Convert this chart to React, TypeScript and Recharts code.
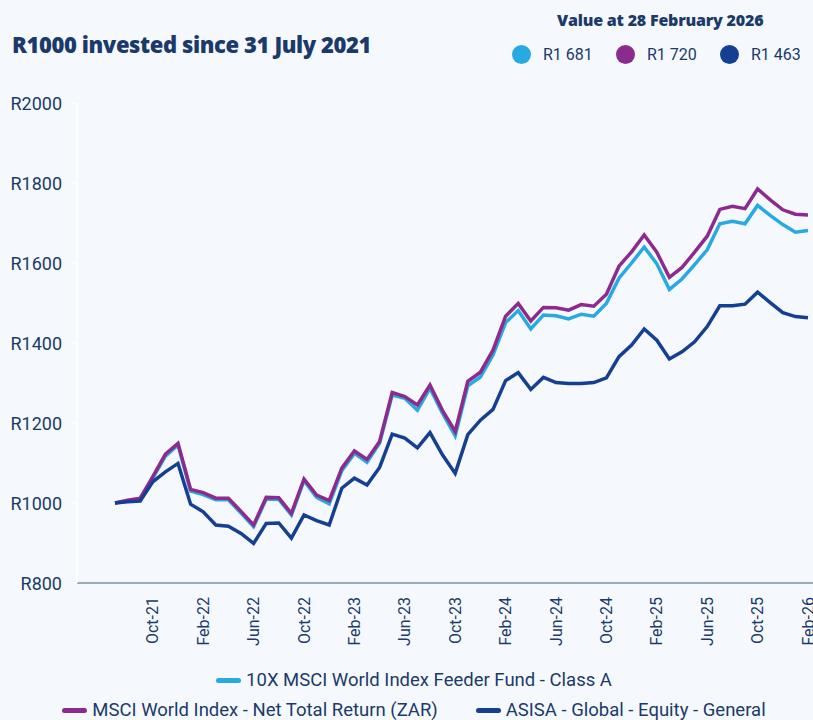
import React from 'react';
import { LineChart, Line, XAxis, YAxis } from 'recharts';

const months = [
  'Jul-21','Aug-21','Sep-21','Oct-21','Nov-21','Dec-21',
  'Jan-22','Feb-22','Mar-22','Apr-22','May-22','Jun-22','Jul-22','Aug-22','Sep-22','Oct-22','Nov-22','Dec-22',
  'Jan-23','Feb-23','Mar-23','Apr-23','May-23','Jun-23','Jul-23','Aug-23','Sep-23','Oct-23','Nov-23','Dec-23',
  'Jan-24','Feb-24','Mar-24','Apr-24','May-24','Jun-24','Jul-24','Aug-24','Sep-24','Oct-24','Nov-24','Dec-24',
  'Jan-25','Feb-25','Mar-25','Apr-25','May-25','Jun-25','Jul-25','Aug-25','Sep-25','Oct-25','Nov-25','Dec-25',
  'Jan-26','Feb-26',
];

const fundValues = [
  1000, 1005, 1009, 1062, 1117, 1145, 1030, 1021, 1008, 1008, 975, 941,
  1010, 1009, 970, 1056, 1014, 998, 1081, 1124, 1102, 1150, 1270, 1262,
  1232, 1287, 1224, 1168, 1293, 1315, 1370, 1451, 1481, 1435, 1470, 1468,
  1460, 1472, 1467, 1499, 1562, 1600, 1640, 1598, 1534, 1560, 1596, 1633,
  1698, 1704, 1698, 1744, 1719, 1696, 1677, 1681,
];

const indexValues = [
  1000, 1007, 1012, 1066, 1122, 1149, 1034, 1026, 1012, 1012, 979, 945,
  1014, 1013, 974, 1060, 1020, 1006, 1087, 1130, 1109, 1154, 1276, 1266,
  1245, 1295, 1231, 1179, 1304, 1327, 1382, 1467, 1499, 1455, 1489, 1488,
  1482, 1496, 1492, 1522, 1592, 1628, 1670, 1627, 1564, 1589, 1627, 1667,
  1734, 1742, 1736, 1785, 1758, 1733, 1722, 1720,
];

const asisaValues = [
  1000, 1003, 1005, 1053, 1078, 1099, 997, 978, 945, 942, 924, 899,
  949, 950, 912, 970, 956, 945, 1037, 1062, 1045, 1089, 1172, 1162,
  1138, 1176, 1120, 1074, 1171, 1207, 1234, 1306, 1326, 1284, 1314, 1301,
  1299, 1299, 1301, 1313, 1366, 1395, 1435, 1407, 1360, 1378, 1403, 1441,
  1493, 1493, 1497, 1527, 1501, 1476, 1466, 1463,
];

const xTicks = ['Oct-21','Feb-22','Jun-22','Oct-22','Feb-23','Jun-23','Oct-23','Feb-24','Jun-24','Oct-24','Feb-25','Jun-25','Oct-25','Feb-26'];
const yTicks = [800, 1000, 1200, 1400, 1600, 1800, 2000];

const seriesNames = [
  '10X MSCI World Index Feeder Fund - Class A',
  'MSCI World Index - Net Total Return (ZAR)',
  'ASISA - Global - Equity - General',
];
const endValueLabels = ['R1 681', 'R1 720', 'R1 463'];
const title = 'R1000 invested since 31 July 2021';
const valueHeader = 'Value at 28 February 2026';

const COLORS = ['#29A9E1', '#8D2A8D', '#153F90'];
const NAVY = '#1B3A6A';
const BG = '#F5F9FE';

const data = months.map((m, i) => ({
  month: m,
  fund: fundValues[i],
  index: indexValues[i],
  asisa: asisaValues[i],
}));

const XTick = (props: any) => {
  const { x, y, payload } = props;
  return (
    <g transform={`translate(${x},${y})`}>
      <text
        transform="rotate(-90)"
        x={-14}
        y={0}
        textAnchor="end"
        dominantBaseline="central"
        fill={NAVY}
        fontSize={16}
        fontFamily="Roboto, sans-serif"
      >
        {payload.value}
      </text>
    </g>
  );
};

const YTick = (props: any) => {
  const { x, y, payload } = props;
  return (
    <text
      x={x}
      y={y}
      textAnchor="end"
      dominantBaseline="central"
      fill={NAVY}
      fontSize={18}
      fontFamily="Roboto, sans-serif"
    >
      {`R${payload.value}`}
    </text>
  );
};

const Swatch = ({ color }: { color: string }) => (
  <span
    style={{
      display: 'inline-block',
      width: 25,
      height: 5,
      borderRadius: 3,
      background: color,
      marginRight: 5,
    }}
  />
);

const legendRow: React.CSSProperties = {
  position: 'absolute',
  left: 0,
  width: 828,
  height: 22,
  display: 'flex',
  justifyContent: 'center',
  alignItems: 'center',
  fontFamily: 'Roboto, sans-serif',
  fontSize: 18.5,
  color: NAVY,
  whiteSpace: 'nowrap',
};

export default function App() {
  return (
    <div
      style={{
        position: 'fixed',
        left: 0,
        top: 0,
        width: 813,
        height: 720,
        overflow: 'hidden',
        background: BG,
      }}
    >
      <div
        style={{
          position: 'absolute',
          left: 12,
          top: 29,
          fontFamily: '"Open Sans", sans-serif',
          fontWeight: 800,
          fontSize: 22,
          letterSpacing: -0.4,
          color: NAVY,
          whiteSpace: 'nowrap',
          lineHeight: '30px',
        }}
      >
        {title}
      </div>
      <div
        style={{
          position: 'absolute',
          left: 557,
          width: 200,
          top: 9,
          textAlign: 'center',
          fontFamily: '"Open Sans", sans-serif',
          fontWeight: 800,
          fontSize: 16,
          letterSpacing: -0.2,
          color: NAVY,
          whiteSpace: 'nowrap',
          lineHeight: '22px',
        }}
      >
        {valueHeader}
      </div>
      {endValueLabels.map((lbl, i) => (
        <div
          key={lbl}
          style={{
            position: 'absolute',
            left: [512, 616, 720][i],
            top: 44,
            height: 20,
            display: 'flex',
            alignItems: 'center',
            fontFamily: 'Roboto, sans-serif',
            fontSize: 16,
            color: NAVY,
            whiteSpace: 'nowrap',
          }}
        >
          <span
            style={{
              display: 'inline-block',
              width: 19,
              height: 19,
              borderRadius: '50%',
              background: COLORS[i],
              marginRight: 12,
            }}
          />
          {lbl}
        </div>
      ))}

      <div style={{ position: 'absolute', left: 0, top: 0 }}>
        <LineChart
          width={823}
          height={720}
          data={data}
          margin={{ top: 103, right: 10, bottom: 0, left: 0 }}
        >
          <XAxis
            dataKey="month"
            ticks={xTicks}
            interval={0}
            tick={<XTick />}
            tickLine={false}
            tickSize={0}
            tickMargin={0}
            axisLine={{ stroke: '#3D5A84', strokeWidth: 1.2 }}
            padding={{ left: 38, right: 5 }}
            height={137}
          />
          <YAxis
            domain={[800, 2000]}
            ticks={yTicks}
            interval={0}
            width={77}
            tick={<YTick />}
            tickLine={{ stroke: '#FFFFFF' }}
            tickSize={6}
            tickMargin={9}
            axisLine={{ stroke: '#FFFFFF', strokeWidth: 1.5 }}
          />
          <Line
            type="linear"
            dataKey="fund"
            name={seriesNames[0]}
            stroke={COLORS[0]}
            strokeWidth={3.5}
            dot={false}
            isAnimationActive={false}
          />
          <Line
            type="linear"
            dataKey="index"
            name={seriesNames[1]}
            stroke={COLORS[1]}
            strokeWidth={3.5}
            dot={false}
            isAnimationActive={false}
          />
          <Line
            type="linear"
            dataKey="asisa"
            name={seriesNames[2]}
            stroke={COLORS[2]}
            strokeWidth={3.5}
            dot={false}
            isAnimationActive={false}
          />
        </LineChart>
      </div>

      <div style={{ ...legendRow, top: 669 }}>
        <Swatch color={COLORS[0]} />
        {seriesNames[0]}
      </div>
      <div style={{ ...legendRow, top: 699 }}>
        <Swatch color={COLORS[1]} />
        <span style={{ marginRight: 38 }}>{seriesNames[1]}</span>
        <Swatch color={COLORS[2]} />
        {seriesNames[2]}
      </div>
    </div>
  );
}
